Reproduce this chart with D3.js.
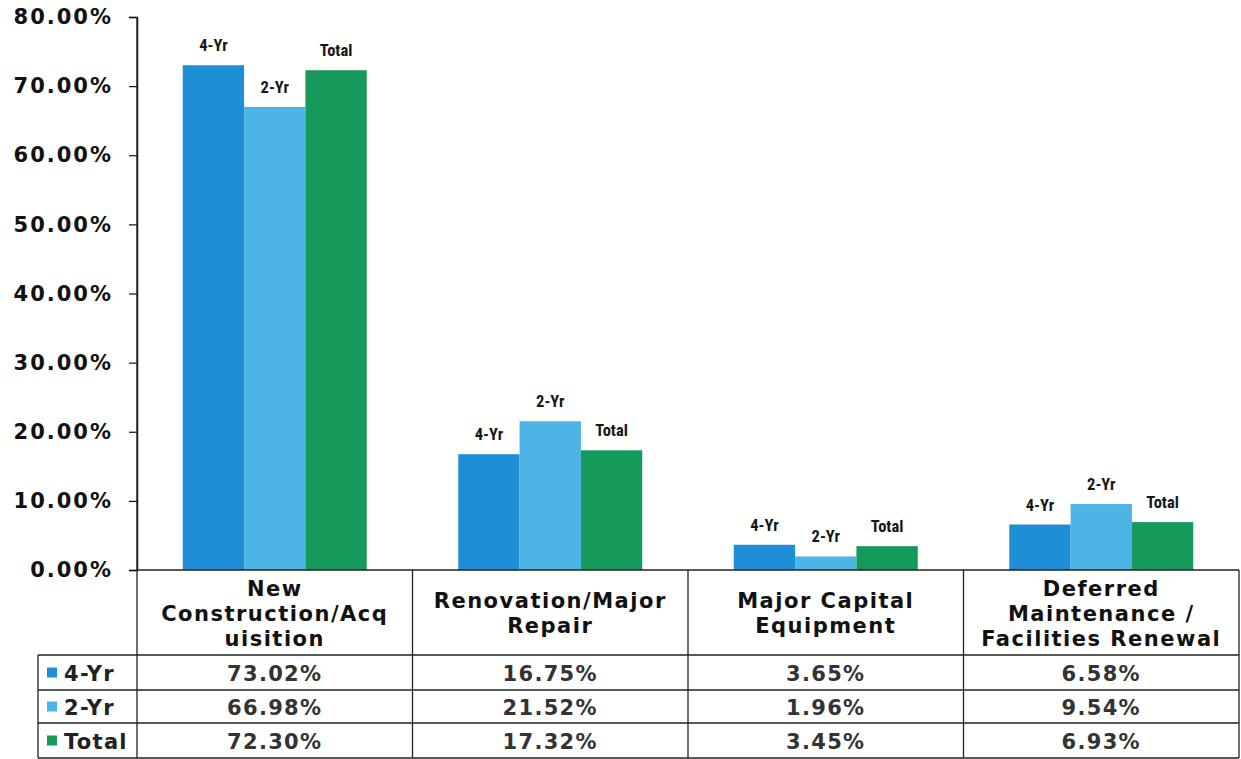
<!DOCTYPE html>
<html>
<head>
<meta charset="utf-8">
<script src="https://cdn.jsdelivr.net/npm/d3@7"></script>
<style>
  html, body { margin: 0; padding: 0; background: #fff; }
  svg { display: block; }
</style>
</head>
<body>
<svg id="chart" width="1241" height="759"></svg>
<script>
// ---- Data ----
const categories = [
  ["New", "Construction/Acq", "uisition"],
  ["Renovation/Major", "Repair"],
  ["Major Capital", "Equipment"],
  ["Deferred", "Maintenance /", "Facilities Renewal"]
];
const series = ["4-Yr", "2-Yr", "Total"];
const values4Yr = [73.02, 16.75, 3.65, 6.58];
const values2Yr = [66.98, 21.52, 1.96, 9.54];
const valuesTotal = [72.30, 17.32, 3.45, 6.93];
const yTicks = [0, 10, 20, 30, 40, 50, 60, 70, 80];
const colors = ["#1e8fd7", "#4db5e5", "#169a5c"];

const seriesValues = [values4Yr, values2Yr, valuesTotal];

// ---- Layout ----
const svg = d3.select("#chart");
const plotLeft = 137, plotRight = 1239, plotTop = 17, plotBottom = 570;
const headerBottom = 655;
const rowLines = [655, 690, 723, 758];
const tableLeft = 38;

const x0 = d3.scaleBand().domain(d3.range(categories.length)).range([plotLeft, plotRight]).padding(0);
const x1 = d3.scaleBand().domain(series).range([0, x0.bandwidth()]).paddingInner(0).paddingOuter(0.746);
const y = d3.scaleLinear().domain([0, 80]).range([plotBottom, plotTop]);

const fontMain = "'DejaVu Sans', Verdana, sans-serif";
const fontNarrow = "'Liberation Sans Narrow', 'Arial Narrow', 'Roboto Condensed', sans-serif";

// ---- Bars ----
const groups = svg.append("g").selectAll("g")
  .data(categories.map((c, i) => i))
  .join("g")
  .attr("transform", i => `translate(${x0(i)},0)`);

groups.selectAll("rect")
  .data(i => series.map((s, k) => ({ s, k, v: seriesValues[k][i] })))
  .join("rect")
  .attr("x", d => x1(d.s))
  .attr("width", x1.bandwidth())
  .attr("y", d => y(d.v))
  .attr("height", d => y(0) - y(d.v))
  .attr("fill", d => colors[d.k]);

groups.selectAll("text.lbl")
  .data(i => series.map((s, k) => ({ s, k, v: seriesValues[k][i] })))
  .join("text")
  .attr("class", "lbl")
  .attr("x", d => x1(d.s) + x1.bandwidth() / 2)
  .attr("y", d => y(d.v) - 14)
  .attr("text-anchor", "middle")
  .attr("font-family", fontNarrow)
  .attr("font-weight", "bold")
  .attr("font-size", 16.5)
  .attr("fill", "#161616")
  .text(d => d.s);

// ---- Y axis ----
const yAxis = d3.axisLeft(y).tickValues(yTicks).tickSize(8).tickPadding(16)
  .tickFormat(d => d.toFixed(2) + "%");
const ga = svg.append("g").attr("transform", `translate(${plotLeft},0)`).call(yAxis);
ga.select(".domain").attr("stroke", "#111").attr("stroke-width", 1.5);
ga.selectAll(".tick line").attr("stroke", "#111").attr("stroke-width", 1.2);
ga.selectAll(".tick text")
  .attr("font-family", fontMain)
  .attr("font-weight", "bold")
  .attr("font-size", 21)
  .attr("letter-spacing", 2)
  .attr("fill", "#111");

// ---- Table ----
const tbl = svg.append("g").attr("stroke", "#222").attr("stroke-width", 1.3).attr("fill", "none");
tbl.append("line").attr("x1", plotLeft).attr("x2", plotRight).attr("y1", plotBottom).attr("y2", plotBottom);
rowLines.forEach(yy => {
  tbl.append("line").attr("x1", tableLeft).attr("x2", plotRight).attr("y1", yy).attr("y2", yy);
});
const vlines = x0.domain().map(i => x0(i)).concat([plotRight]);
vlines.forEach(xx => {
  tbl.append("line").attr("x1", xx).attr("x2", xx).attr("y1", xx === plotLeft ? plotTop : plotBottom).attr("y2", rowLines[3]);
});
tbl.append("line").attr("x1", tableLeft).attr("x2", tableLeft).attr("y1", headerBottom).attr("y2", rowLines[3]);

// header text
const hdr = svg.append("g");
categories.forEach((lines, i) => {
  const cx = x0(i) + x0.bandwidth() / 2;
  const lh = 25;
  const startY = (plotBottom + headerBottom) / 2 - (lines.length - 1) * lh / 2 + 8;
  const t = hdr.append("text")
    .attr("text-anchor", "middle")
    .attr("font-family", fontMain)
    .attr("font-weight", "bold")
    .attr("font-size", 21)
    .attr("letter-spacing", 1.5)
    .attr("fill", "#111");
  lines.forEach((ln, j) => {
    t.append("tspan").attr("x", cx).attr("y", startY + j * lh).text(ln);
  });
});

// rows
series.forEach((s, k) => {
  const yTop = rowLines[k], yBot = rowLines[k + 1];
  const cy = (yTop + yBot) / 2;
  svg.append("rect")
    .attr("x", 47).attr("y", cy - 5).attr("width", 10).attr("height", 10)
    .attr("fill", colors[k]);
  svg.append("text")
    .attr("x", 64).attr("y", cy + 8)
    .attr("font-family", fontMain).attr("font-weight", "bold").attr("font-size", 21)
    .attr("letter-spacing", 1.3)
    .attr("fill", "#222")
    .text(s);
  seriesValues[k].forEach((v, i) => {
    svg.append("text")
      .attr("x", x0(i) + x0.bandwidth() / 2).attr("y", cy + 8)
      .attr("text-anchor", "middle")
      .attr("font-family", fontMain).attr("font-weight", "bold").attr("font-size", 21)
      .attr("letter-spacing", 1.3)
      .attr("fill", "#333")
      .text(v.toFixed(2) + "%");
  });
});
</script>
</body>
</html>
